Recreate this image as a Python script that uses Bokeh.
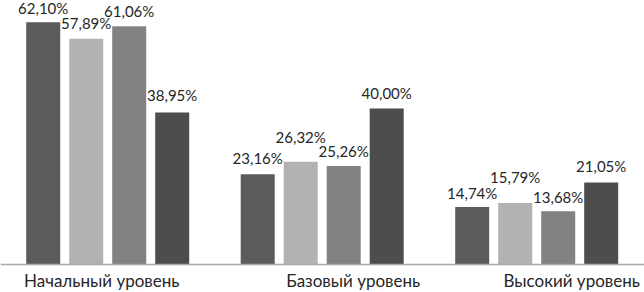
import numpy as np
from bokeh.plotting import figure
from bokeh.models import ColumnDataSource, Range1d, LabelSet, Span
from bokeh.core.properties import value
from bokeh.transform import dodge
from bokeh.embed import file_html
from bokeh.resources import INLINE

# ---- data ----
categories = ["Начальный уровень", "Базовый уровень", "Высокий уровень"]
series1 = [62.10, 23.16, 14.74]
series2 = [57.89, 26.32, 15.79]
series3 = [61.06, 25.26, 13.68]
series4 = [38.95, 40.00, 21.05]

# ---- styles ----
colors = ["#5b5b5b", "#b2b2b2", "#828282", "#4d4d4d"]
label_gaps = [[8, 10, 9, 12], [10, 19, 9, 10], [8, 20, 8, 10]]   # px above bar, per group/series
cat_x_offsets = [-6, 31, 35]
cat_y_offset = -22
GROUP_PX = 214.5
PX_PER_PCT = 3.9
bar_w = 34 / GROUP_PX
pitch = 43 / GROUP_PX
offsets = [-1.5 * pitch, -0.5 * pitch, 0.5 * pitch, 1.5 * pitch]
text_color = "#262626"
FONT = value("Lato")

p = figure(width=644, height=292, output_backend="svg", toolbar_location=None,
           x_range=Range1d(-0.4998, -0.4998 + 644 / GROUP_PX),
           y_range=Range1d(-28 / PX_PER_PCT, 264 / PX_PER_PCT),
           min_border=0)
p.outline_line_color = None
p.xgrid.visible = False
p.ygrid.visible = False
p.xaxis.visible = False
p.yaxis.visible = False
p.background_fill_color = "white"
p.border_fill_color = "white"

idx = list(range(len(categories)))
for s, vals in enumerate([series1, series2, series3, series4]):
    src = ColumnDataSource(dict(
        x=idx,
        y=vals,
        label=[f"{v:.2f}".replace(".", ",") + "%" for v in vals],
        gap=[label_gaps[g][s] for g in idx],
    ))
    p.vbar(x=dodge("x", offsets[s], range=p.x_range), top="y", bottom=0, width=bar_w,
           source=src, fill_color=colors[s], line_color=None)
    p.add_layout(LabelSet(x=dodge("x", offsets[s], range=p.x_range), y="y", text="label",
                          y_offset="gap", source=src, text_align="center",
                          text_baseline="alphabetic", text_font=FONT,
                          text_font_size="15px", text_color=text_color))

p.add_layout(Span(location=0, dimension="width", line_color="#a8a8a8", line_width=1.5))

cat_src = ColumnDataSource(dict(x=idx, y=[0] * len(idx), label=categories,
                                xo=cat_x_offsets))
p.add_layout(LabelSet(x="x", y="y", text="label", source=cat_src, x_offset="xo",
                      y_offset=cat_y_offset, text_align="center", text_baseline="alphabetic",
                      text_font=FONT, text_font_size="17px", text_color=text_color))

open("out.html", "w").write(file_html(p, INLINE))
